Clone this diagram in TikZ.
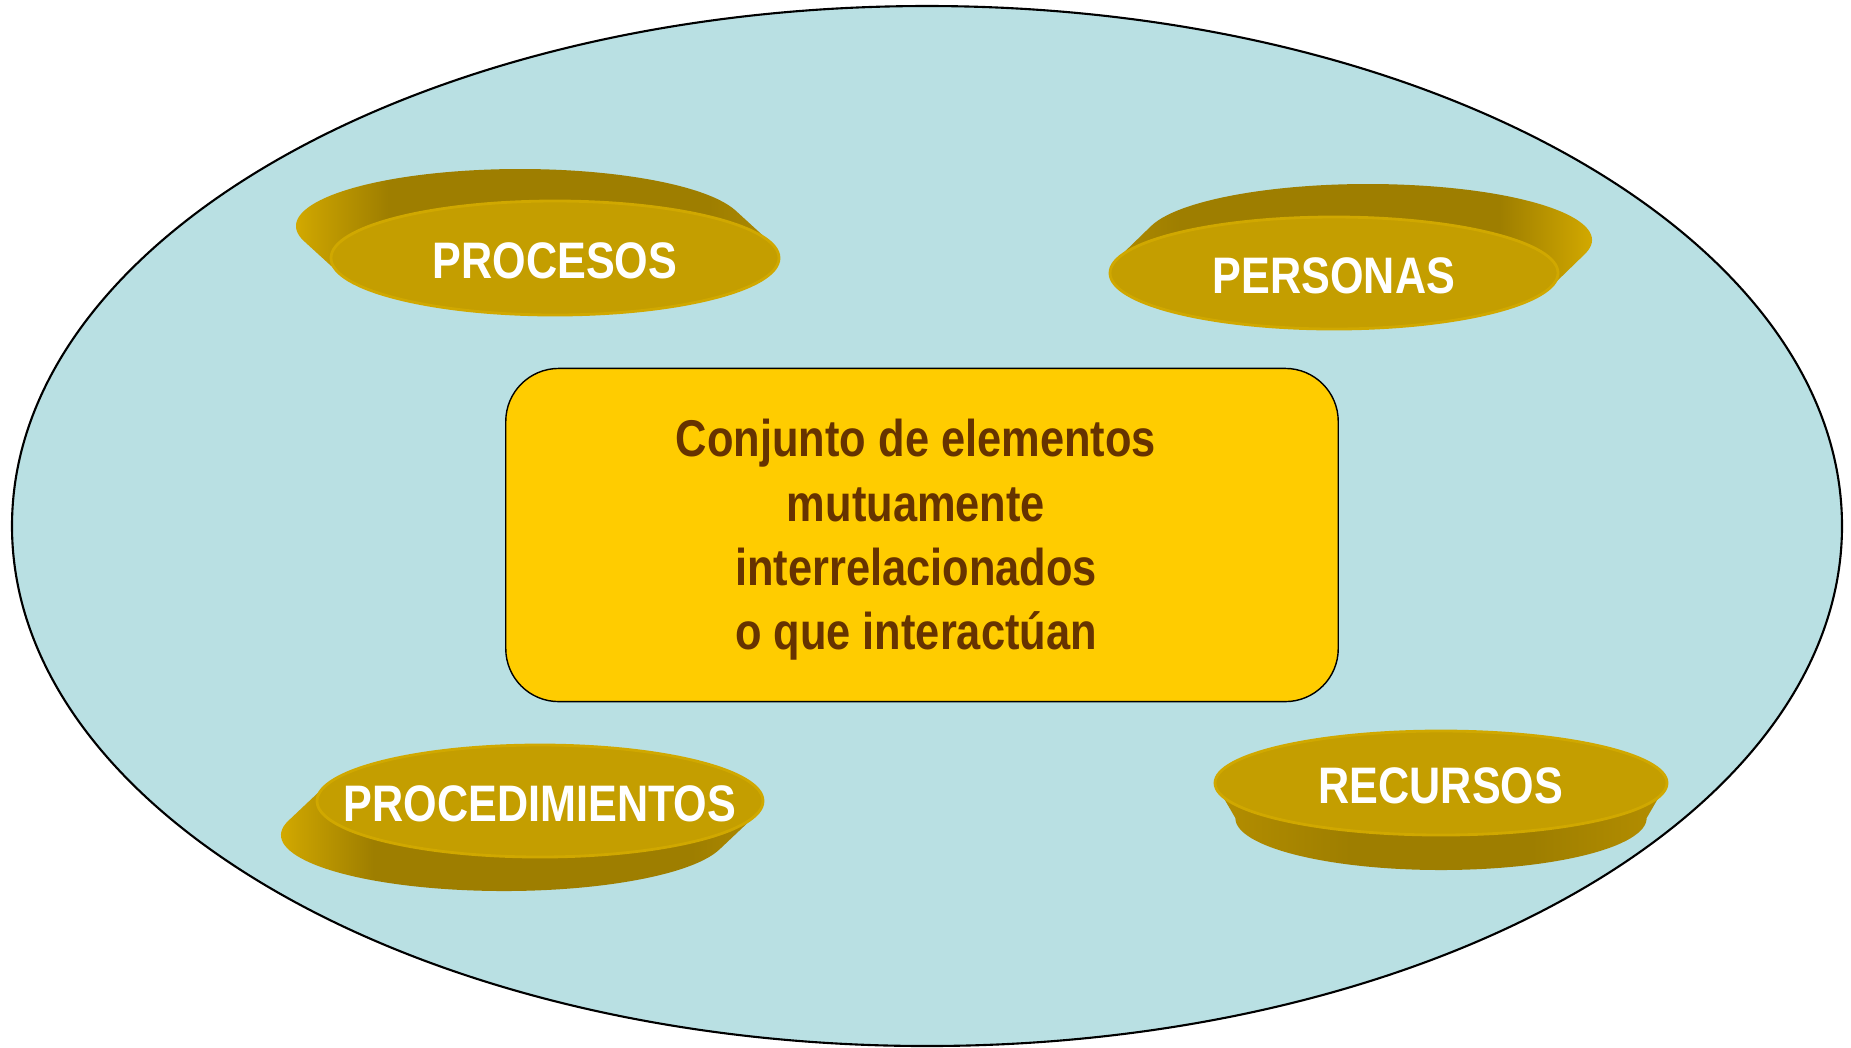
\documentclass[tikz,border=0pt]{standalone}
\usepackage{fontspec}
\setmainfont{Liberation Sans}[FakeStretch=0.84]
\usetikzlibrary{shapes}

\definecolor{sea}{HTML}{B9E0E3}
\definecolor{gold}{HTML}{FFCC00}
\definecolor{brownish}{HTML}{663300}
\definecolor{disctop}{HTML}{C49E00}
\definecolor{discrim}{HTML}{D0A800}
\definecolor{discside}{HTML}{9E7E00}
\definecolor{discshine}{HTML}{E2B600}
\definecolor{discedge}{HTML}{B48E00}

% side shadings of the discs (path box runs from 25bp to 75bp)
\pgfdeclarehorizontalshading{shineleft}{100bp}{color(0bp)=(discshine); color(25bp)=(discshine);
  color(29bp)=(discshine!60!discside); color(36bp)=(discside); color(66bp)=(discside); color(75bp)=(discedge); color(100bp)=(discedge)}
\pgfdeclarehorizontalshading{shineright}{100bp}{color(0bp)=(discedge); color(25bp)=(discedge);
  color(34bp)=(discside); color(64bp)=(discside); color(71bp)=(discshine!60!discside); color(75bp)=(discshine); color(100bp)=(discshine)}
\pgfdeclarehorizontalshading{shineflat}{100bp}{color(0bp)=(discedge); color(25bp)=(discedge);
  color(40bp)=(discside); color(60bp)=(discside); color(75bp)=(discedge); color(100bp)=(discedge)}

\begin{document}
\begin{tikzpicture}[x=0.01cm, y=-0.01cm]
    \tikzstyle{defbox}=[draw, fill=gold, rounded corners=0.53cm, minimum width=8.32cm, minimum height=3.33cm]
    \tikzstyle{deftext}=[align=center, text=brownish, font=\bfseries\fontsize{14.7}{18.3}\selectfont]
    \tikzstyle{disclabel}=[text=white, font=\bfseries\fontsize{14.6}{17}\selectfont]
    \useasboundingbox (0,0) rectangle (1851,1047);
    \draw[fill=sea, line width=0.6pt] (927,526) ellipse [x radius=915, y radius=520];
    \node[defbox] (def) at (922,535) {};
    \node[deftext] (deftxt) at (916,540) {Conjunto de elementos\\ mutuamente\\ interrelacionados\\ o que interactúan};
    % discs: centre, offset of the back face, radii, shrink of the back face, side shading
    \foreach \cx/\cy/\dx/\dy/\rx/\ry/\sc/\sh/\nm/\txt in {
      555/258/-35/-32/224/57/1/shineleft/procesos/PROCESOS,
      1334/273/34/-33/224/56/1/shineright/personas/PERSONAS,
      540/801/-36/34/223/56/1/shineleft/procedimientos/PROCEDIMIENTOS,
      1441/783/0/35/226/52/0.91/shineflat/recursos/RECURSOS}
    {
      \pgfmathsetmacro\td{atan2(\dy/\ry, \dx/\rx)}
      \pgfmathsetmacro\bx{\rx*\sc}
      \shade[shading=\sh]
        ({\cx+\dx+\bx*cos(\td+90)},{\cy+\dy+\ry*sin(\td+90)})
        arc [start angle=\td+90, end angle=\td-90, x radius=\bx, y radius=\ry]
        -- ({\cx+\rx*cos(\td-90)},{\cy+\ry*sin(\td-90)})
        arc [start angle=\td-90, end angle=\td-270, x radius=\rx, y radius=\ry]
        -- cycle;
      \fill[disctop, draw=discrim, line width=0.8pt] (\cx,\cy) ellipse [x radius=\rx, y radius=\ry];
      \node[disclabel] (\nm) at (\cx,\cy+3) {\txt};
    }
  \end{tikzpicture}
\end{document}
